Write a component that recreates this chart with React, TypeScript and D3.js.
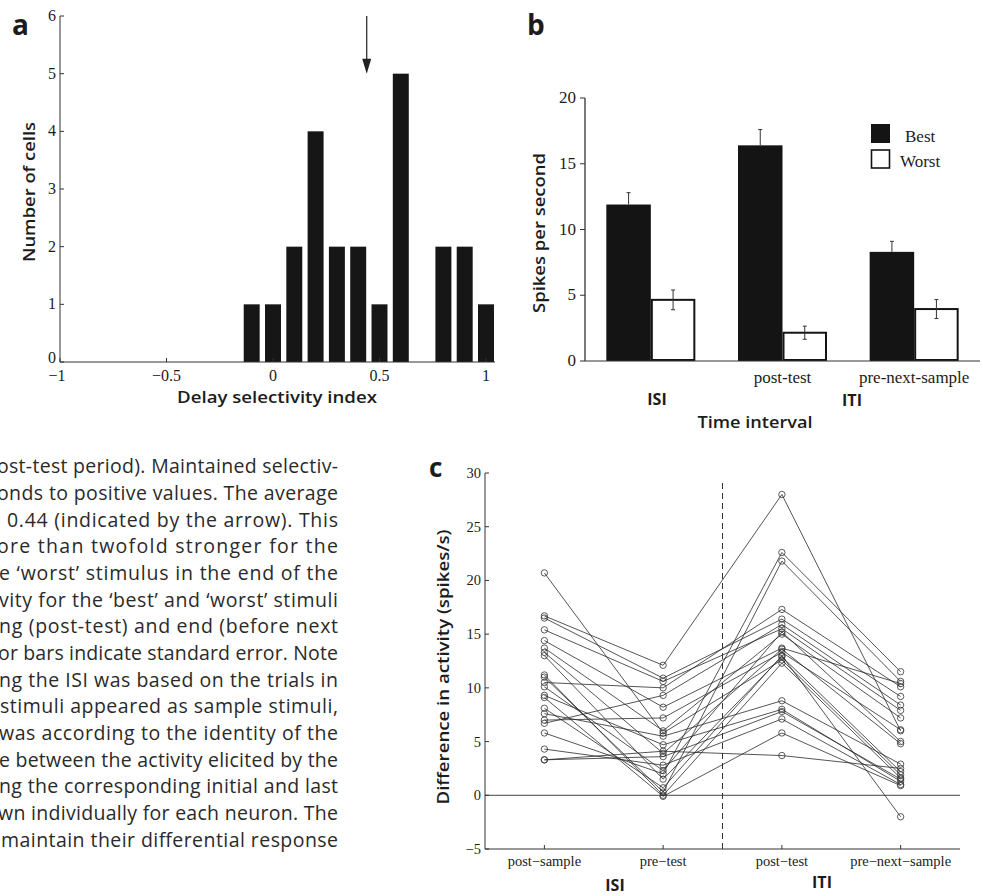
import React from 'react';
import * as d3 from 'd3';

// ---------- Panel a: histogram ----------
const binCenters = [-0.1, 0, 0.1, 0.2, 0.3, 0.4, 0.5, 0.6, 0.7, 0.8, 0.9, 1.0];
const cellCounts = [1, 1, 2, 4, 2, 2, 1, 5, 0, 2, 2, 1];
const histXTicks = [-1, -0.5, 0, 0.5, 1];
const histXTickLabels = ['−1', '−0.5', '0', '0.5', '1'];
const histYTicks = [0, 1, 2, 3, 4, 5, 6];
const meanSelectivity = 0.44;

// ---------- Panel b: grouped bars ----------
const intervals = ['ISI', 'post-test', 'pre-next-sample'];
const intervalLabels = ['', 'post-test', 'pre-next-sample'];
const bestMeans = [11.9, 16.4, 8.3];
const bestSE = [0.9, 1.2, 0.8];
const worstMeans = [4.65, 2.15, 3.95];
const worstSE = [0.75, 0.5, 0.72];
const spikeTicks = [0, 5, 10, 15, 20];

// ---------- Panel c: per-neuron differences ----------
const diffCategories = ['post−sample', 'pre−test', 'post−test', 'pre−next−sample'];
const postSample = [20.7, 16.7, 16.5, 15.4, 14.4, 13.7, 13.3, 13.0, 11.2, 11.0, 10.5, 10.1, 9.3, 9.1, 8.1, 7.6, 7.0, 6.7, 5.8, 4.3, 3.3, 3.3];
const preTest = [5.8, 12.1, 10.9, 10.6, 8.2, 6.0, 3.9, 1.5, 0.0, 0.3, 10.0, 2.3, 4.7, -0.1, 0.7, 5.5, 7.2, 9.3, 2.0, 2.8, 4.1, 3.6];
const postTest = [12.6, 28.0, 16.4, 15.5, 13.7, 15.0, 13.6, 12.9, 12.3, 21.8, 17.3, 15.2, 8.0, 5.8, 13.0, 8.8, 13.3, 15.9, 22.6, 7.1, 3.7, 7.8];
const preNext = [1.9, 6.0, 9.2, 7.9, 10.4, 7.2, 4.8, 2.2, 1.6, 10.6, 10.1, 5.0, 1.3, 0.9, -2.0, 2.9, 6.1, 8.4, 11.5, 1.0, 2.5, 1.5];
const diffTicks = [-5, 0, 5, 10, 15, 20, 25, 30];
const diffTickLabels = ['−5', '0', '5', '10', '15', '20', '25', '30'];

// ---------- Caption text (clipped on the left) ----------
const captionLines = [
  'ost-test period). Maintained selectiv-',
  'onds to positive values. The average',
  '0.44 (indicated by the arrow). This',
  'ore than twofold stronger for the',
  'e ‘worst’ stimulus in the end of the',
  'vity for the ‘best’ and ‘worst’ stimuli',
  'ng (post-test) and end (before next',
  'or bars indicate standard error. Note',
  'ng the ISI was based on the trials in',
  'stimuli appeared as sample stimuli,',
  'was according to the identity of the',
  'e between the activity elicited by the',
  'ng the corresponding initial and last',
  'wn individually for each neuron. The',
  'maintain their differential response',
];
const captionStarts = [-3, -3, 7, -3, -1, -1, -1, -2, -1, 0, -1, -1, -1, -2, 1];

const SERIF = '"Liberation Serif", "Times New Roman", serif';
const SANS = '"Open Sans", "Noto Sans", sans-serif';
const INK = '#1c1c1c';

function PanelA() {
  const x = d3.scaleLinear().domain([-1, 1]).range([60, 486]);
  const y = d3.scaleLinear().domain([0, 6]).range([362, 16]);
  const barW = 0.075;
  const arrowTop = y(6);
  const arrowTip = y(5);
  const ax = x(meanSelectivity);
  return (
    <g>
      <text x={12} y={35} fontFamily={SANS} fontWeight={700} fontSize={28} fill={INK}>a</text>
      {binCenters.map((c, i) =>
        cellCounts[i] > 0 ? (
          <rect key={i} x={x(c - barW / 2)} y={y(cellCounts[i])} width={x(c + barW / 2) - x(c - barW / 2)}
            height={y(0) - y(cellCounts[i])} fill="#161616" />
        ) : null
      )}
      <line x1={x(-1)} x2={x(1) + 9} y1={y(0)} y2={y(0)} stroke="#333" strokeWidth={1} />
      <line x1={x(-1)} x2={x(-1)} y1={y(0)} y2={y(6)} stroke="#333" strokeWidth={1} />
      {histYTicks.map(t => (
        <g key={t}>
          <line x1={x(-1)} x2={x(-1) + 4} y1={y(t)} y2={y(t)} stroke="#333" />
          <text x={x(-1) - 4} y={y(t) + (t === 0 ? 1 : 5)} textAnchor="end" fontFamily={SERIF} fontSize={16} fill={INK}>{t}</text>
        </g>
      ))}
      {histXTicks.map((t, i) => (
        <g key={t}>
          <line x1={x(t)} x2={x(t)} y1={y(0)} y2={y(0) - 4} stroke="#333" />
          <text x={x(t) + (t === -1 ? -3 : 0)} y={y(0) + 19} textAnchor="middle" fontFamily={SERIF} fontSize={16} fill={INK}>{histXTickLabels[i]}</text>
        </g>
      ))}
      <line x1={ax} x2={ax} y1={arrowTop} y2={arrowTip - 12} stroke="#222" strokeWidth={1.2} />
      <path d={`M${ax - 4.5},${arrowTip - 15} L${ax + 4.5},${arrowTip - 15} L${ax},${arrowTip} Z`} fill="#222" />
      <text x={277} y={403} textAnchor="middle" fontFamily={SANS} fontWeight={600} fontSize={17} fill={INK}
        textLength={200} lengthAdjust="spacingAndGlyphs">Delay selectivity index</text>
      <text transform={`translate(35,192) rotate(-90)`} textAnchor="middle" fontFamily={SANS} fontWeight={600}
        fontSize={17} fill={INK} textLength={140} lengthAdjust="spacingAndGlyphs">Number of cells</text>
    </g>
  );
}

function PanelB() {
  const x = d3.scaleBand().domain(intervals).range([585, 980]).padding(0);
  const y = d3.scaleLinear().domain([0, 20]).range([361, 98]);
  const bw = x.bandwidth() * 0.338;
  return (
    <g>
      <text x={527} y={35} fontFamily={SANS} fontWeight={700} fontSize={28} fill={INK}>b</text>
      {intervals.map((k, i) => {
        const c = (x(k) as number) + x.bandwidth() / 2;
        const bx = c - bw / 2;
        const wx = c + bw / 2;
        return (
          <g key={k}>
            <rect x={c - bw} y={y(bestMeans[i])} width={bw} height={y(0) - y(bestMeans[i])} fill="#141414" />
            <line x1={bx} x2={bx} y1={y(bestMeans[i])} y2={y(bestMeans[i] + bestSE[i])} stroke="#333" strokeWidth={1} />
            <line x1={bx - 2} x2={bx + 2} y1={y(bestMeans[i] + bestSE[i])} y2={y(bestMeans[i] + bestSE[i])} stroke="#333" />
            <rect x={c + 1} y={y(worstMeans[i])} width={bw - 2} height={y(0) - y(worstMeans[i]) - 1} fill="#fff" stroke="#141414" strokeWidth={2} />
            <line x1={wx} x2={wx} y1={y(worstMeans[i] - worstSE[i])} y2={y(worstMeans[i] + worstSE[i])} stroke="#333" strokeWidth={1} />
            <line x1={wx - 2} x2={wx + 2} y1={y(worstMeans[i] + worstSE[i])} y2={y(worstMeans[i] + worstSE[i])} stroke="#333" />
            <line x1={wx - 2} x2={wx + 2} y1={y(worstMeans[i] - worstSE[i])} y2={y(worstMeans[i] - worstSE[i])} stroke="#333" />
            {intervalLabels[i] && (
              <text x={c} y={383} textAnchor="middle" fontFamily={SERIF} fontSize={17} fill={INK}>{intervalLabels[i]}</text>
            )}
          </g>
        );
      })}
      <line x1={585} x2={980} y1={y(0)} y2={y(0)} stroke="#333" strokeWidth={1} />
      <line x1={585} x2={585} y1={y(0)} y2={y(20)} stroke="#333" strokeWidth={1.3} />
      {spikeTicks.map(t => (
        <g key={t}>
          <line x1={580} x2={585} y1={y(t)} y2={y(t)} stroke="#333" />
          <text x={576} y={y(t) + 5} textAnchor="end" fontFamily={SERIF} fontSize={17} fill={INK}>{t}</text>
        </g>
      ))}
      <rect x={871} y={124} width={19} height={19} fill="#141414" />
      <text x={905} y={142} fontFamily={SERIF} fontSize={17} fill={INK}>Best</text>
      <rect x={871.5} y={150} width={18} height={18} fill="#fff" stroke="#141414" strokeWidth={1.6} />
      <text x={900} y={167} fontFamily={SERIF} fontSize={17} fill={INK}>Worst</text>
      <text x={657} y={405} textAnchor="middle" fontFamily={SANS} fontWeight={700} fontSize={16} fill={INK}>ISI</text>
      <text x={852} y={406} textAnchor="middle" fontFamily={SANS} fontWeight={700} fontSize={16} fill={INK}>ITI</text>
      <text x={755} y={428} textAnchor="middle" fontFamily={SANS} fontWeight={600} fontSize={16} fill={INK}
        textLength={115} lengthAdjust="spacingAndGlyphs">Time interval</text>
      <text transform={`translate(545,233) rotate(-90)`} textAnchor="middle" fontFamily={SANS} fontWeight={600}
        fontSize={17} fill={INK} textLength={160} lengthAdjust="spacingAndGlyphs">Spikes per second</text>
    </g>
  );
}

function PanelC() {
  const x = d3.scalePoint().domain(diffCategories).range([485, 960]).padding(0.5);
  const y = d3.scaleLinear().domain([-5, 30]).range([849, 473]);
  const cols = [postSample, preTest, postTest, preNext];
  const line = d3.line<[number, number]>().x(d => d[0]).y(d => d[1]);
  const sepX = ((x(diffCategories[1]) as number) + (x(diffCategories[2]) as number)) / 2;
  return (
    <g>
      <text x={429} y={477} fontFamily={SANS} fontWeight={700} fontSize={26} fill={INK}>c</text>
      <line x1={485} x2={960} y1={y(0)} y2={y(0)} stroke="#444" strokeWidth={1} />
      <line x1={sepX} x2={sepX} y1={483} y2={y(-5)} stroke="#333" strokeWidth={1} strokeDasharray="6,4" />
      {postSample.map((_, i) => {
        const pts = cols.map((col, j) => [x(diffCategories[j]) as number, y(col[i])] as [number, number]);
        return <path key={i} d={line(pts) || ''} fill="none" stroke="#2a2a2a" strokeWidth={0.8} />;
      })}
      {cols.map((col, j) =>
        col.map((v, i) => (
          <circle key={`${j}-${i}`} cx={x(diffCategories[j]) as number} cy={y(v)} r={3.2} fill="none" stroke="#333" strokeWidth={0.8} />
        ))
      )}
      <line x1={485} x2={485} y1={y(30)} y2={y(-5)} stroke="#333" strokeWidth={1} />
      <line x1={485} x2={960} y1={y(-5)} y2={y(-5)} stroke="#333" strokeWidth={1} />
      {diffTicks.map((t, i) => (
        <g key={t}>
          <line x1={485} x2={489} y1={y(t)} y2={y(t)} stroke="#333" />
          <text x={481} y={y(t) + 5} textAnchor="end" fontFamily={SERIF} fontSize={14.5} fill={INK}>{diffTickLabels[i]}</text>
        </g>
      ))}
      {diffCategories.map(c => (
        <g key={c}>
          <line x1={x(c) as number} x2={x(c) as number} y1={y(-5)} y2={y(-5) - 4} stroke="#333" />
          <text x={x(c) as number} y={866} textAnchor="middle" fontFamily={SERIF} fontSize={14.5} fill={INK}>{c}</text>
        </g>
      ))}
      <text x={615} y={891} textAnchor="middle" fontFamily={SANS} fontWeight={700} fontSize={16} fill={INK}>ISI</text>
      <text x={822} y={888} textAnchor="middle" fontFamily={SANS} fontWeight={700} fontSize={16} fill={INK}>ITI</text>
      <text transform={`translate(449,667) rotate(-90)`} textAnchor="middle" fontFamily={SANS} fontWeight={600}
        fontSize={17} fill={INK} textLength={275} lengthAdjust="spacingAndGlyphs">Difference in activity (spikes/s)</text>
    </g>
  );
}

function Caption() {
  return (
    <g>
      {captionLines.map((t, i) => (
        <text key={i} x={captionStarts[i]} y={473.3 + i * 26.67} fontFamily={SANS} fontSize={19.5} fill="#2a2a2a"
          textLength={338 - captionStarts[i]} lengthAdjust="spacing">{t}</text>
      ))}
    </g>
  );
}

export default function App() {
  return (
    <div style={{ position: 'absolute', left: 0, top: 0 }}>
      <svg width={983} height={896} viewBox="0 0 983 896" style={{ display: 'block', background: '#fff' }}>
        <PanelA />
        <PanelB />
        <PanelC />
        <Caption />
      </svg>
    </div>
  );
}
